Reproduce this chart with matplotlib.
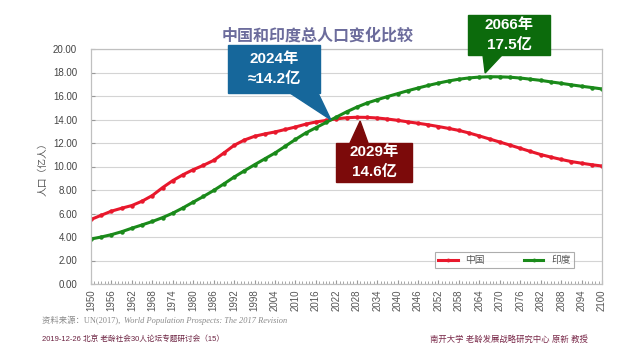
import matplotlib
matplotlib.use('Agg')
import matplotlib.pyplot as plt
from matplotlib.patches import Rectangle, Polygon
from matplotlib.ticker import MultipleLocator
import numpy as np

plt.rcParams['font.family'] = ['Liberation Sans', 'Noto Sans CJK SC', 'DejaVu Sans']

# 数据：每3年读一次（单位：亿人）
years = list(range(1950, 2101, 3))
china = [5.49, 5.85, 6.20, 6.45, 6.68, 7.05, 7.53, 8.20, 8.80, 9.30,
         9.73, 10.10, 10.52, 11.15, 11.80, 12.25, 12.57, 12.77, 12.94, 13.15,
         13.36, 13.60, 13.79, 13.92, 14.05, 14.15, 14.19, 14.18, 14.13, 14.04,
         13.93, 13.80, 13.68, 13.55, 13.40, 13.24, 13.07, 12.85, 12.60, 12.34,
         12.08, 11.82, 11.55, 11.28, 11.02, 10.80, 10.60, 10.42, 10.28, 10.15,
         10.04]
india = [3.83, 4.00, 4.20, 4.45, 4.75, 5.03, 5.32, 5.65, 6.03, 6.48,
         6.97, 7.45, 7.96, 8.52, 9.10, 9.63, 10.15, 10.65, 11.15, 11.72,
         12.30, 12.85, 13.30, 13.75, 14.20, 14.65, 15.05, 15.40, 15.68, 15.95,
         16.20, 16.45, 16.68, 16.90, 17.10, 17.28, 17.43, 17.54, 17.61, 17.64,
         17.63, 17.60, 17.53, 17.43, 17.33, 17.20, 17.08, 16.95, 16.83, 16.72,
         16.60]
series_names = ['中国', '印度']
xticks = list(range(1950, 2101, 6))
yticks = list(range(0, 21, 2))

W, H = 640, 360
fig = plt.figure(figsize=(W / 100, H / 100), dpi=100)
ax = fig.add_axes([91 / W, 76 / H, 511 / W, 235 / H])

ax.plot(years, china, '-', color='#e8182c', lw=2.2, marker='o', ms=2.2,
        label=series_names[0])
ax.plot(years, india, '-', color='#1a8a1a', lw=2.2, marker='o', ms=2.2,
        label=series_names[1])

ax.set_xlim(1950, 2100)
ax.set_ylim(0, 20)
ax.set_xticks(xticks)
ax.set_xticklabels([str(y) for y in xticks], rotation=90)
ax.xaxis.set_minor_locator(MultipleLocator(1))
ax.set_yticks(yticks)
ax.set_yticklabels([f'{v:.2f}' for v in yticks])
ax.tick_params(axis='x', which='major', direction='in', length=3, labelsize=7,
               labelcolor='#555555', color='#999999', pad=4)
ax.tick_params(axis='x', which='minor', direction='in', length=2, color='#999999')
ax.tick_params(axis='y', direction='in', length=3, labelsize=7,
               labelcolor='#444444', color='#999999', pad=10)
ax.grid(axis='y', color='#d4d4d4', lw=0.8)
ax.set_axisbelow(True)
for side in ('left', 'bottom', 'right', 'top'):
    ax.spines[side].set_color('#c0c0c0')
    ax.spines[side].set_linewidth(0.9)

ax.set_ylabel('人口（亿人）', fontsize=7, color='#555555', labelpad=4)

leg = ax.legend(loc='center', bbox_to_anchor=(0.809, 0.102), ncol=2, fontsize=7,
                frameon=True, fancybox=False, edgecolor='#999999',
                handlelength=2.0, columnspacing=4.0, borderpad=0.35,
                labelcolor='#555555', markerscale=0.8)
leg.get_frame().set_linewidth(0.8)

fig.text(318 / W, 1 - 36 / H, '中国和印度总人口变化比较', ha='center', va='center',
         fontsize=11.5, fontweight='bold', color='#6c6c9c')


def px(x, y):
    return (x / W, 1 - y / H)


def callout(box, base, tip_data, color, text, text_xy):
    x0, y0, x1, y1 = box
    fx0, fy1 = px(x0, y0)
    fx1, fy0 = px(x1, y1)
    fig.patches.append(Rectangle((fx0, fy0), fx1 - fx0, fy1 - fy0,
                                 transform=fig.transFigure, color=color,
                                 zorder=5))
    tip = fig.transFigure.inverted().transform(ax.transData.transform(tip_data))
    tri = [px(*base[0]), px(*base[1]), tuple(tip)]
    fig.patches.append(Polygon(tri, closed=True, transform=fig.transFigure,
                               color=color, zorder=5))
    fig.text(*px(*text_xy), text, ha='center', va='center', color='white',
             fontsize=11, fontweight='bold', linespacing=1.45, zorder=6)


callout((228, 45, 320, 93), [(290, 93), (318, 93)], (2020.4, 13.98),
        '#16679b', '2024年\n≈14.2亿', (274, 69))
callout((468, 15, 550, 55), [(483, 55), (502, 55)], (2065.7, 17.96),
        '#0c6b0c', '2066年\n17.5亿', (509, 35))
callout((336, 143, 412, 182), [(350, 143), (368, 143)], (2029, 13.87),
        '#7c0a0a', '2029年\n14.6亿', (374, 162))

# 资料来源：普通字体 + 斜体书名，紧接着排
src = fig.text(42 / W, 1 - 321 / H, '资料来源：UN(2017), ', ha='left', va='center',
               fontsize=6, color='#8a8a8a',
               family=['Liberation Serif', 'Noto Sans CJK SC'])
fig.canvas.draw()
x_end = src.get_window_extent().x1
fig.text(x_end / W + 2 / W, 1 - 321 / H,
         'World Population Prospects: The 2017 Revision',
         ha='left', va='center', fontsize=6, color='#8a8a8a',
         style='italic', family='Liberation Serif')
fig.text(42 / W, 1 - 340 / H, '2019-12-26 北京 老龄社会30人论坛专题研讨会（15）',
         ha='left', va='center', fontsize=5.5, color='#6b2140')
fig.text(588 / W, 1 - 340 / H, '南开大学 老龄发展战略研究中心 原新 教授',
         ha='right', va='center', fontsize=6, color='#7a2a4a')

fig.savefig('out.png', dpi=100)
